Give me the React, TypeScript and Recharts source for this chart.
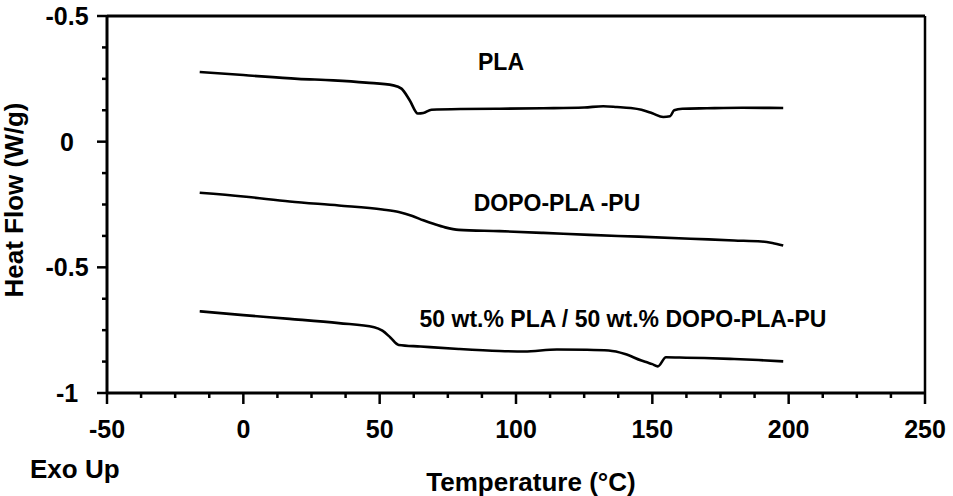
import { LineChart, Line, XAxis, YAxis, ReferenceLine } from "recharts";

// DSC traces (temperature in °C, heat flow in W/g)
const plaTemp = [-16, 0, 20, 33, 45, 55, 58, 61, 64, 66, 69, 80, 94, 110, 125, 132, 137, 142, 146, 150, 154, 156.5, 158, 161, 170, 183, 198];
const plaFlow = [0.277, 0.265, 0.25, 0.244, 0.235, 0.224, 0.211, 0.165, 0.112, 0.114, 0.127, 0.13, 0.131, 0.133, 0.136, 0.141, 0.138, 0.134, 0.127, 0.113, 0.098, 0.101, 0.125, 0.131, 0.133, 0.135, 0.134];

const dopoTemp = [-16, 0, 17, 35, 51, 57, 62, 66, 70, 74, 79, 94, 110, 127, 145, 164, 180, 190, 194, 198];
const dopoFlow = [-0.203, -0.218, -0.238, -0.254, -0.27, -0.28, -0.296, -0.313, -0.328, -0.341, -0.351, -0.356, -0.363, -0.371, -0.378, -0.386, -0.393, -0.397, -0.403, -0.413];

const blendTemp = [-16, 0, 17, 35, 48, 51, 54, 57, 65, 79, 94, 103, 115, 126, 134, 140, 146, 148, 150, 152, 155, 160, 169, 180, 189, 198];
const blendFlow = [-0.675, -0.69, -0.705, -0.722, -0.738, -0.752, -0.78, -0.809, -0.815, -0.825, -0.833, -0.835, -0.827, -0.828, -0.831, -0.845, -0.871, -0.878, -0.885, -0.894, -0.858, -0.859, -0.861, -0.865, -0.869, -0.874];

const xMajorTicks = [-50, 0, 50, 100, 150, 200, 250];
const xTickLabels = ["-50", "0", "50", "100", "150", "200", "250"];
const yMajorTicks = [0.5, 0, -0.5, -1];
const yTickLabels = ["-0.5", "0", "-0.5", "-1"];

const xTicks = Array.from({ length: 25 }, (_, i) => -50 + i * 12.5);
const yTicks = Array.from({ length: 13 }, (_, i) => 0.5 - i * 0.125);

const toPoints = (temps: number[], flows: number[]) => temps.map((t, i) => ({ t, v: flows[i] }));
const plaData = toPoints(plaTemp, plaFlow);
const dopoData = toPoints(dopoTemp, dopoFlow);
const blendData = toPoints(blendTemp, blendFlow);

const FONT = "'Liberation Sans', Arial, sans-serif";

const XTick = ({ x, y, payload }: any) => {
  const idx = xMajorTicks.indexOf(payload.value);
  const len = idx >= 0 ? 11 : 5;
  return (
    <g>
      <line x1={x} x2={x} y1={y} y2={y + len} stroke="#000" strokeWidth={2.5} />
      {idx >= 0 && (
        <text x={x} y={y + 45} textAnchor="middle" fontFamily={FONT} fontWeight="bold" fontSize={25} fill="#000">
          {xTickLabels[idx]}
        </text>
      )}
    </g>
  );
};

const YTick = ({ x, y, payload }: any) => {
  const idx = yMajorTicks.indexOf(payload.value);
  const len = idx >= 0 ? 10 : 5;
  return (
    <g>
      <line x1={x - len} x2={x} y1={y} y2={y} stroke="#000" strokeWidth={2.5} />
      {idx >= 0 && (
        <text x={x - 40} y={y + 9} textAnchor="middle" fontFamily={FONT} fontWeight="bold" fontSize={25} fill="#000">
          {yTickLabels[idx]}
        </text>
      )}
    </g>
  );
};

const textStyle = { fontFamily: FONT, fontWeight: "bold" as const, fill: "#000" };

export default function App() {
  return (
    <div style={{ position: "absolute", left: 0, top: 0, width: 953, height: 496, background: "#fff" }}>
      <LineChart width={953} height={496} margin={{ top: 16, right: 28, bottom: 43, left: 7 }}>
        <XAxis
          type="number"
          dataKey="t"
          domain={[-50, 250]}
          ticks={xTicks}
          interval={0}
          tickSize={0}
          tickMargin={0}
          tickLine={false}
          tick={<XTick />}
          axisLine={{ stroke: "#000", strokeWidth: 3 }}
          height={60}
          allowDuplicatedCategory={false}
        />
        <YAxis
          type="number"
          domain={[-1, 0.5]}
          ticks={yTicks}
          interval={0}
          tickSize={0}
          tickMargin={0}
          tickLine={false}
          tick={<YTick />}
          axisLine={{ stroke: "#000", strokeWidth: 3 }}
          width={100}
        />
        <ReferenceLine y={0.5} stroke="#000" strokeWidth={3} />
        <ReferenceLine x={250} stroke="#000" strokeWidth={2.5} />
        <Line data={plaData} dataKey="v" type="monotone" stroke="#000" strokeWidth={2.6} dot={false} isAnimationActive={false} />
        <Line data={dopoData} dataKey="v" type="monotone" stroke="#000" strokeWidth={2.6} dot={false} isAnimationActive={false} />
        <Line data={blendData} dataKey="v" type="monotone" stroke="#000" strokeWidth={2.6} dot={false} isAnimationActive={false} />
      </LineChart>
      <svg width={953} height={496} style={{ position: "absolute", left: 0, top: 0, pointerEvents: "none" }}>
        <text {...textStyle} fontSize={23} x={501} y={70} textAnchor="middle">PLA</text>
        <text {...textStyle} fontSize={23} x={557} y={211} textAnchor="middle">DOPO-PLA -PU</text>
        <text {...textStyle} fontSize={23} x={623} y={327} textAnchor="middle">50 wt.% PLA / 50 wt.% DOPO-PLA-PU</text>
        <text {...textStyle} fontSize={26} transform="translate(23,200) rotate(-90)" textAnchor="middle">Heat Flow (W/g)</text>
        <text {...textStyle} fontSize={26} x={30} y={478}>Exo Up</text>
        <text {...textStyle} fontSize={26} x={531} y={491} textAnchor="middle">Temperature (°C)</text>
      </svg>
    </div>
  );
}
